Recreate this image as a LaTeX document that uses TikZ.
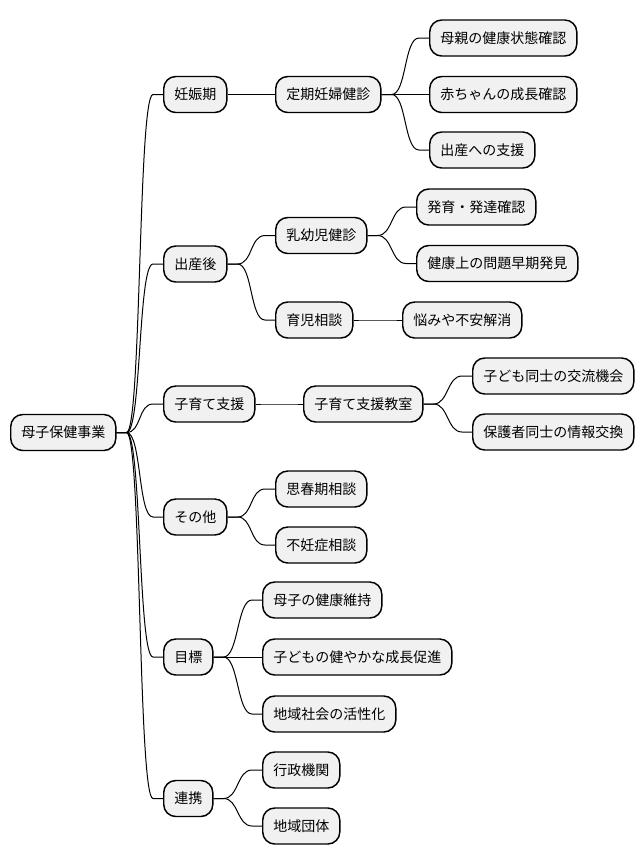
\documentclass[tikz,border=0pt]{standalone}
\usepackage{fontspec}
\setmainfont{Noto Sans CJK JP}
\usetikzlibrary{calc}

\newcommand{\branch}[2]{\draw[link] (#1.east) -- ++(10,0) .. controls +(15,0) and +(-15,0) .. ($(#2.west)+(-10,0)$) -- (#2.west);}

\begin{document}
\begin{tikzpicture}[x=0.75pt,y=-0.75pt,
box/.style={draw,line width=1.1pt,fill=black!5.5,rounded corners=9pt,anchor=west,
 minimum height=27pt,inner xsep=7.9pt,inner ysep=0pt,font=\fontsize{10.5pt}{12pt}\selectfont},
link/.style={line width=0.75pt}]
\useasboundingbox (0,0) rectangle (642,865);

\node[box] (R) at (10,432.5) {母子保健事業};

\node[box] (A) at (163,94.5) {妊娠期};
\node[box] (B) at (163,264) {出産後};
\node[box] (C) at (163,404) {子育て支援};
\node[box] (D) at (163,517) {その他};
\node[box] (E) at (163,657) {目標};
\node[box] (F) at (163,798.5) {連携};

%
\node[box] (A1) at (275,94.5) {定期妊婦健診};
\node[box] (A11) at (429,38) {母親の健康状態確認};
\node[box] (A12) at (429,94.5) {赤ちゃんの成長確認};
\node[box] (A13) at (429,150) {出産への支援};

\node[box] (B1) at (275,235.5) {乳幼児健診};
\node[box] (B11) at (416,207) {発育・発達確認};
\node[box] (B12) at (416,263.5) {健康上の問題早期発見};
\node[box] (B2) at (275,320) {育児相談};
\node[box] (B21) at (402,320) {悩みや不安解消};

\node[box] (C1) at (303,404) {子育て支援教室};
\node[box] (C11) at (472,376) {子ども同士の交流機会};
\node[box] (C12) at (472,432) {保護者同士の情報交換};

\node[box] (D1) at (275,489) {思春期相談};
\node[box] (D2) at (275,545) {不妊症相談};

\node[box] (E1) at (262,600) {母子の健康維持};
\node[box] (E2) at (262,657) {子どもの健やかな成長促進};
\node[box] (E3) at (262,714) {地域社会の活性化};

\node[box] (F1) at (262,770) {行政機関};
\node[box] (F2) at (262,826) {地域団体};

%
\branch{R}{A} \branch{R}{B} \branch{R}{C}
\branch{R}{D} \branch{R}{E} \branch{R}{F}
\branch{A}{A1}
\branch{A1}{A11} \branch{A1}{A12} \branch{A1}{A13}
\branch{B}{B1} \branch{B}{B2}
\branch{B1}{B11} \branch{B1}{B12}
\branch{B2}{B21}
\branch{C}{C1}
\branch{C1}{C11} \branch{C1}{C12}
\branch{D}{D1} \branch{D}{D2}
\branch{E}{E1} \branch{E}{E2} \branch{E}{E3}
\branch{F}{F1} \branch{F}{F2}

\end{tikzpicture}
\end{document}
